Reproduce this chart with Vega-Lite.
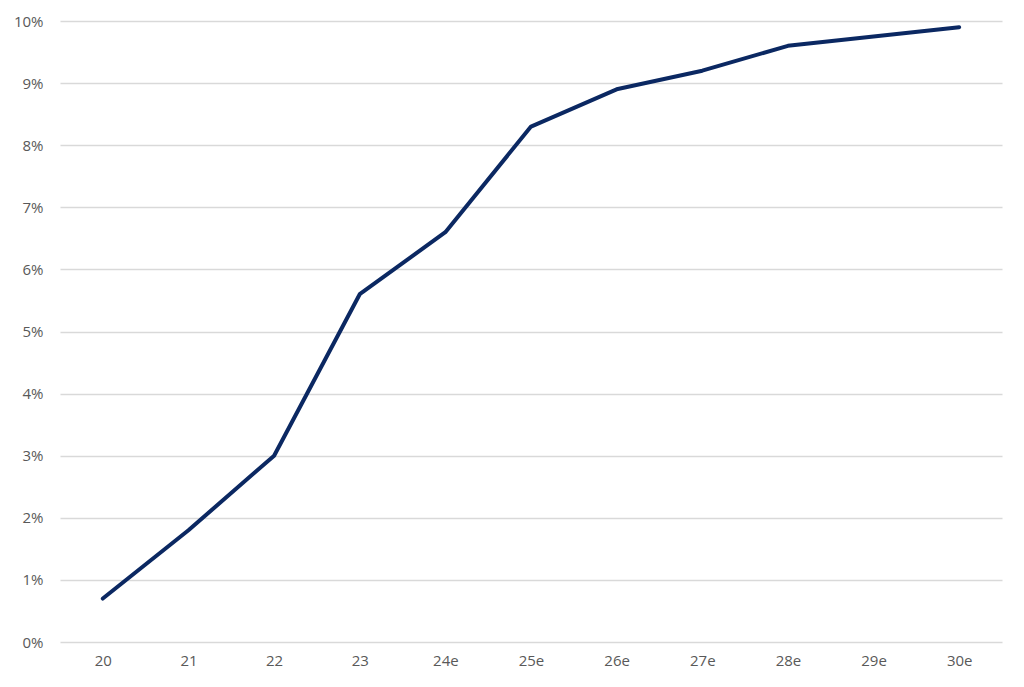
{
  "$schema": "https://vega.github.io/schema/vega-lite/v6.json",
  "width": 942,
  "height": 621,
  "autosize": {"type": "none"},
  "padding": {"left": 60, "top": 21, "right": 22, "bottom": 45},
  "background": "white",
  "config": {"view": {"stroke": null}, "font": "Open Sans"},
  "data": {"values": [
    {"year": "20", "value": 0.007},
    {"year": "21", "value": 0.018},
    {"year": "22", "value": 0.030},
    {"year": "23", "value": 0.056},
    {"year": "24e", "value": 0.066},
    {"year": "25e", "value": 0.083},
    {"year": "26e", "value": 0.089},
    {"year": "27e", "value": 0.092},
    {"year": "28e", "value": 0.096},
    {"year": "29e", "value": 0.0975},
    {"year": "30e", "value": 0.099}
  ]},
  "mark": {"type": "line", "color": "#0b2862", "strokeWidth": 4, "strokeCap": "round", "strokeJoin": "round"},
  "encoding": {
    "x": {
      "field": "year", "type": "ordinal", "sort": null,
      "scale": {"type": "point", "padding": 0.5},
      "axis": {"title": null, "labelAngle": 0, "ticks": false, "domain": false, "grid": false,
               "labelFontSize": 15, "labelColor": "#595959", "labelPadding": 11}
    },
    "y": {
      "field": "value", "type": "quantitative",
      "scale": {"domain": [0, 0.1], "nice": false},
      "axis": {"title": null, "format": ".0%", "values": [0,0.01,0.02,0.03,0.04,0.05,0.06,0.07,0.08,0.09,0.1],
               "ticks": false, "domain": false, "gridColor": "#d9d9d9", "gridWidth": 1.3,
               "labelFontSize": 15, "labelColor": "#595959", "labelPadding": 17}
    }
  }
}
